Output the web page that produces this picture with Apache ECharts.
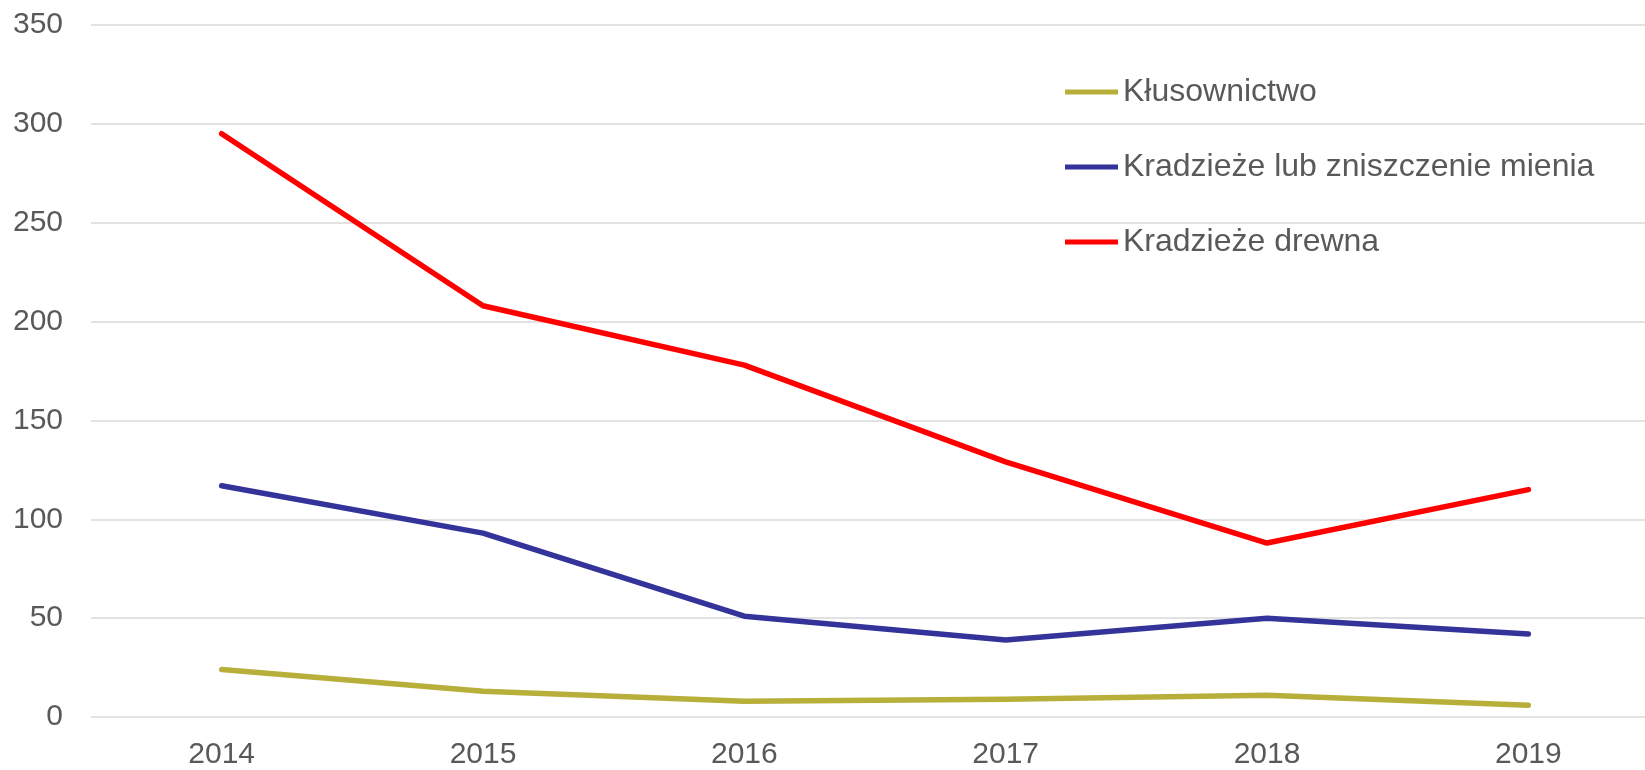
<!DOCTYPE html>
<html>
<head>
<meta charset="utf-8">
<script src="https://cdn.jsdelivr.net/npm/echarts@6/dist/echarts.min.js"></script>
<style>
    html, body { margin: 0; padding: 0; background: #fff; }
    #chart { width: 1645px; height: 770px; }
</style>
</head>
<body>
<div id="chart"></div>
<script>
var years = ['2014', '2015', '2016', '2017', '2018', '2019'];
var seriesNames = ['Kłusownictwo', 'Kradzieże lub zniszczenie mienia', 'Kradzieże drewna'];
var klusownictwo = [24, 13, 8, 9, 11, 6];
var kradziezeMienia = [117, 93, 51, 39, 50, 42];
var kradziezeDrewna = [295, 208, 178, 129, 88, 115];
var seriesColors = ['#B8AE3A', '#333399', '#FF0000'];

function initChart() {
    var _chart = echarts.init(document.getElementById('chart'));
    var values = [klusownictwo, kradziezeMienia, kradziezeDrewna];
    var series = [];
    for (var i = 0; i < values.length; i++) {
        series.push({
            name: seriesNames[i],
            type: 'line',
            data: values[i],
            showSymbol: false,
            symbol: 'none',
            color: seriesColors[i],
            lineStyle: {width: 5.5, cap: 'round', join: 'round'}
        });
    }
    var option = {
        animation: false,
        textStyle: {fontFamily: 'Liberation Sans, Arial, sans-serif'},
        // plot area runs a bit past the right edge, like the original
        grid: {left: 91, right: -14, top: 25, bottom: 53, outerBoundsMode: 'none', containLabel: false},
        legend: {
            orient: 'vertical',
            left: 1065,
            top: 75,
            padding: 0,
            icon: 'rect',
            itemWidth: 53,
            itemHeight: 5,
            itemGap: 41,
            data: seriesNames,
            textStyle: {color: '#595959', fontSize: 32, lineHeight: 34}
        },
        xAxis: {
            type: 'category',
            data: years,
            boundaryGap: true,
            axisLine: {show: false},
            axisTick: {show: false},
            axisLabel: {color: '#595959', fontSize: 30, margin: 23}
        },
        yAxis: {
            type: 'value',
            min: 0,
            max: 350,
            interval: 50,
            axisLine: {show: false},
            axisTick: {show: false},
            axisLabel: {color: '#595959', fontSize: 30, margin: 28},
            splitLine: {lineStyle: {color: '#D9D9D9', width: 1.5}}
        },
        series: series
    };
    _chart.setOption(option);
}
initChart();
</script>
</body>
</html>
